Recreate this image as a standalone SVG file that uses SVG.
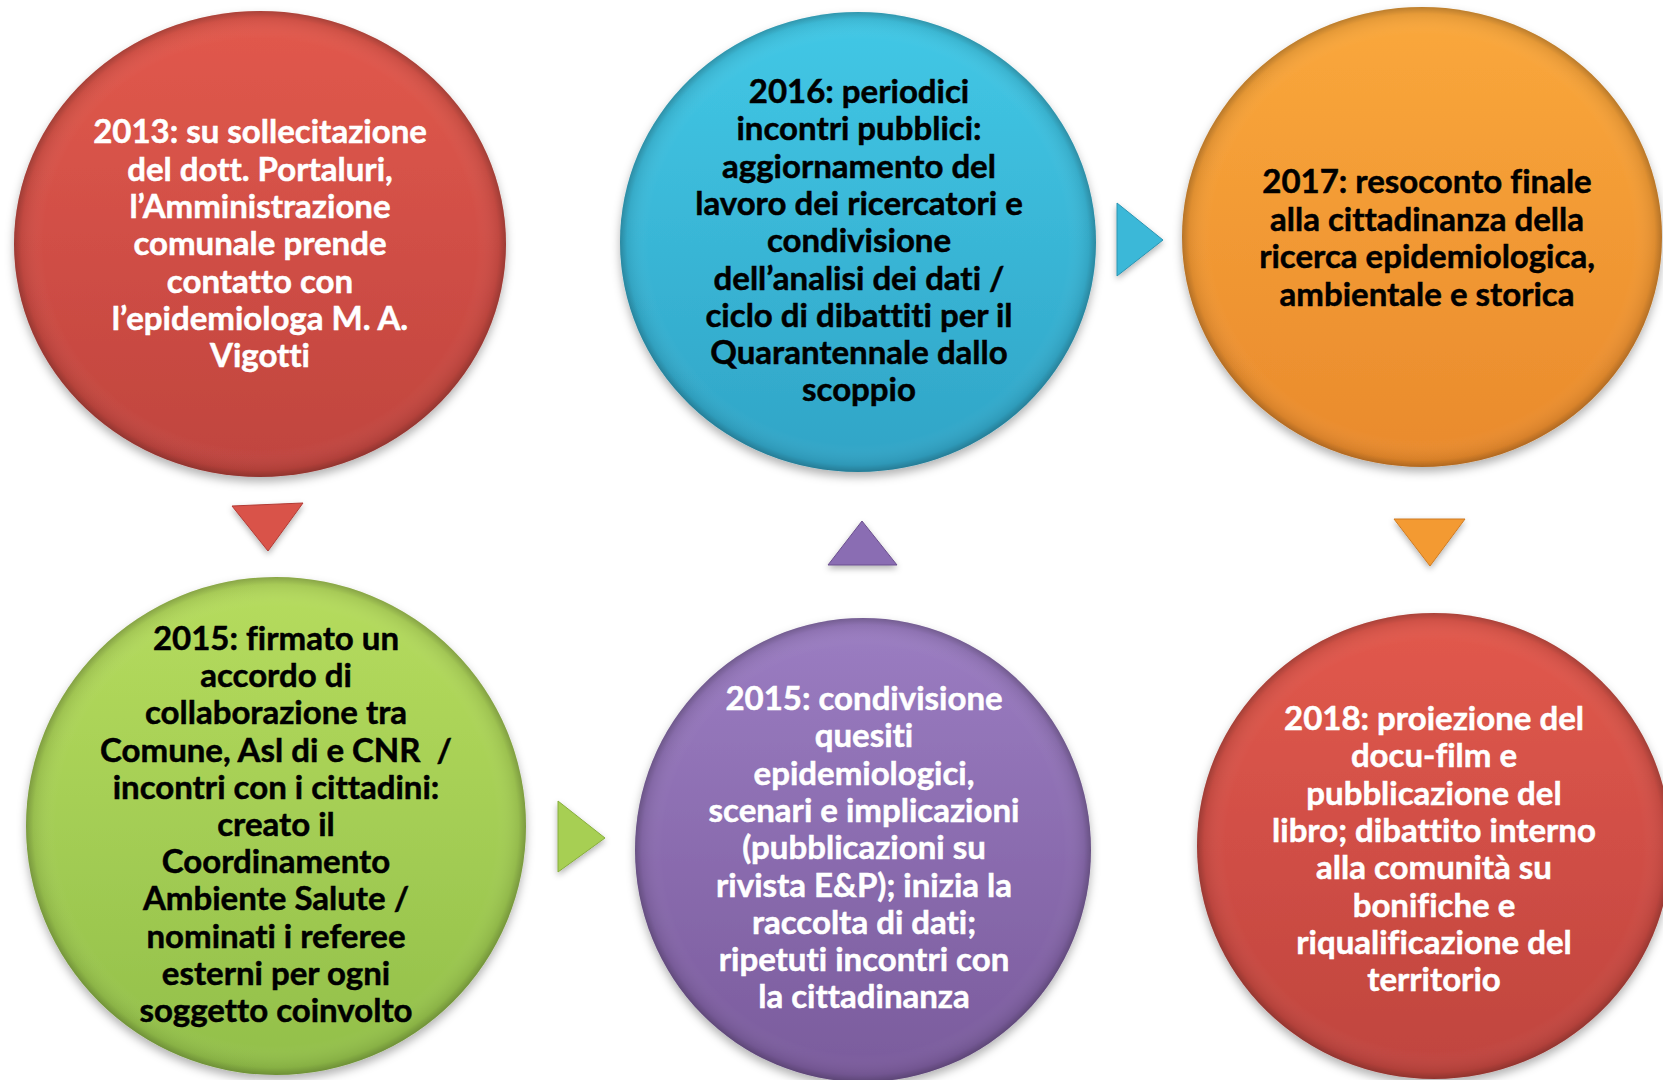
<svg xmlns="http://www.w3.org/2000/svg" width="1663" height="1080" viewBox="0 0 1663 1080">
<defs>
  <linearGradient id="gRed" x1="0" y1="0" x2="0" y2="1">
    <stop offset="0" stop-color="#e2594d"/>
    <stop offset="1" stop-color="#bf443e"/>
  </linearGradient>
  <linearGradient id="gBlue" x1="0" y1="0" x2="0" y2="1">
    <stop offset="0" stop-color="#42c8e6"/>
    <stop offset="1" stop-color="#30a4c6"/>
  </linearGradient>
  <linearGradient id="gOrange" x1="0" y1="0" x2="0" y2="1">
    <stop offset="0" stop-color="#faa83c"/>
    <stop offset="1" stop-color="#e98a2c"/>
  </linearGradient>
  <linearGradient id="gGreen" x1="0" y1="0" x2="0" y2="1">
    <stop offset="0" stop-color="#b6dc5e"/>
    <stop offset="1" stop-color="#92bf4a"/>
  </linearGradient>
  <linearGradient id="gPurple" x1="0" y1="0" x2="0" y2="1">
    <stop offset="0" stop-color="#9b7dc2"/>
    <stop offset="1" stop-color="#7a5b9c"/>
  </linearGradient>
  <radialGradient id="gloss" cx="0.5" cy="0.5" r="0.5">
    <stop offset="0.88" stop-color="#ffffff" stop-opacity="0"/>
    <stop offset="0.97" stop-color="#000000" stop-opacity="0.08"/>
    <stop offset="1" stop-color="#000000" stop-opacity="0.25"/>
  </radialGradient>
  <filter id="sh" x="-10%" y="-10%" width="120%" height="125%">
    <feDropShadow dx="0" dy="5" stdDeviation="5" flood-color="#000" flood-opacity="0.3"/>
  </filter>
  <filter id="shs" x="-30%" y="-30%" width="160%" height="170%">
    <feDropShadow dx="0" dy="3" stdDeviation="3" flood-color="#000" flood-opacity="0.3"/>
  </filter>
</defs>
<style>
  text { font-family: Lato, "Open Sans", "Liberation Sans", sans-serif; font-weight: bold; font-size: 33px; text-anchor: middle; font-variant-ligatures: none; font-feature-settings: "liga" 0; stroke-width: 0.5px; }
  .w { fill: #ffffff; stroke: #ffffff; }
  .k { fill: #000000; stroke: #000000; }
  .edge { fill: url(#gloss); }
</style>
<rect width="1663" height="1080" fill="#ffffff"/>

<g id="connectors">
  <polygon points="232,506 303,503 268,551" fill="#d9534a" stroke="#b23c35" stroke-width="1" filter="url(#shs)"/>
  <polygon points="558,801 558,872 605,838" fill="#a7cf52" stroke="#86ad3c" stroke-width="1" filter="url(#shs)"/>
  <polygon points="828,565 897,565 862,521" fill="#8a6db3" stroke="#6b4f8e" stroke-width="1" filter="url(#shs)"/>
  <polygon points="1117,203 1117,276 1163,240" fill="#3bb8d8" stroke="#2a94b2" stroke-width="1" filter="url(#shs)"/>
  <polygon points="1394,519 1465,519 1430,566" fill="#f39a33" stroke="#cf7b20" stroke-width="1" filter="url(#shs)"/>
</g>

<g id="node-2013">
  <ellipse cx="260" cy="244" rx="246" ry="233" fill="url(#gRed)" filter="url(#sh)"/>
  <ellipse cx="260" cy="244" rx="246" ry="233" class="edge"/>
  <text class="w" x="260" y="143">2013: su sollecitazione</text>
  <text class="w" x="260" y="180.5">del dott. Portaluri,</text>
  <text class="w" x="260" y="218">l’Amministrazione</text>
  <text class="w" x="260" y="255">comunale prende</text>
  <text class="w" x="260" y="292.5">contatto con</text>
  <text class="w" x="260" y="330">l’epidemiologa M. A.</text>
  <text class="w" x="260" y="367">Vigotti</text>
</g>

<g id="node-2016">
  <ellipse cx="858" cy="242" rx="238" ry="230" fill="url(#gBlue)" filter="url(#sh)"/>
  <ellipse cx="858" cy="242" rx="238" ry="230" class="edge"/>
  <text class="k" x="859" y="103">2016: periodici</text>
  <text class="k" x="859" y="140.3">incontri pubblici:</text>
  <text class="k" x="859" y="177.6">aggiornamento del</text>
  <text class="k" x="859" y="214.9">lavoro dei ricercatori e</text>
  <text class="k" x="859" y="252.2">condivisione</text>
  <text class="k" x="859" y="289.5">dell’analisi dei dati /</text>
  <text class="k" x="859" y="326.8">ciclo di dibattiti per il</text>
  <text class="k" x="859" y="364.1">Quarantennale dallo</text>
  <text class="k" x="859" y="401.4">scoppio</text>
</g>

<g id="node-2017">
  <ellipse cx="1422" cy="237" rx="240" ry="230" fill="url(#gOrange)" filter="url(#sh)"/>
  <ellipse cx="1422" cy="237" rx="240" ry="230" class="edge"/>
  <text class="k" x="1427" y="193">2017: resoconto finale</text>
  <text class="k" x="1427" y="230.5">alla cittadinanza della</text>
  <text class="k" x="1427" y="268">ricerca epidemiologica,</text>
  <text class="k" x="1427" y="305.5">ambientale e storica</text>
</g>

<g id="node-2015a">
  <ellipse cx="276" cy="826" rx="250" ry="249" fill="url(#gGreen)" filter="url(#sh)"/>
  <ellipse cx="276" cy="826" rx="250" ry="249" class="edge"/>
  <text class="k" x="276" y="650">2015: firmato un</text>
  <text class="k" x="276" y="687.2">accordo di</text>
  <text class="k" x="276" y="724.4">collaborazione tra</text>
  <text class="k" x="276" y="761.6" xml:space="preserve">Comune, Asl di e CNR  /</text>
  <text class="k" x="276" y="798.8">incontri con i cittadini:</text>
  <text class="k" x="276" y="836">creato il</text>
  <text class="k" x="276" y="873.2">Coordinamento</text>
  <text class="k" x="276" y="910.4">Ambiente Salute /</text>
  <text class="k" x="276" y="947.6">nominati i referee</text>
  <text class="k" x="276" y="984.8">esterni per ogni</text>
  <text class="k" x="276" y="1022">soggetto coinvolto</text>
</g>

<g id="node-2015b">
  <ellipse cx="863" cy="850" rx="228" ry="232" fill="url(#gPurple)" filter="url(#sh)"/>
  <ellipse cx="863" cy="850" rx="228" ry="232" class="edge"/>
  <text class="w" x="864" y="710">2015: condivisione</text>
  <text class="w" x="864" y="747.3">quesiti</text>
  <text class="w" x="864" y="784.6">epidemiologici,</text>
  <text class="w" x="864" y="821.9">scenari e implicazioni</text>
  <text class="w" x="864" y="859.2">(pubblicazioni su</text>
  <text class="w" x="864" y="896.5">rivista E&amp;P); inizia la</text>
  <text class="w" x="864" y="933.8">raccolta di dati;</text>
  <text class="w" x="864" y="971.1">ripetuti incontri con</text>
  <text class="w" x="864" y="1008.4">la cittadinanza</text>
</g>

<g id="node-2018">
  <ellipse cx="1434" cy="846" rx="237" ry="233" fill="url(#gRed)" filter="url(#sh)"/>
  <ellipse cx="1434" cy="846" rx="237" ry="233" class="edge"/>
  <text class="w" x="1434" y="730">2018: proiezione del</text>
  <text class="w" x="1434" y="767.3">docu-film e</text>
  <text class="w" x="1434" y="804.6">pubblicazione del</text>
  <text class="w" x="1434" y="841.9">libro; dibattito interno</text>
  <text class="w" x="1434" y="879.2">alla comunità su</text>
  <text class="w" x="1434" y="916.5">bonifiche e</text>
  <text class="w" x="1434" y="953.8">riqualificazione del</text>
  <text class="w" x="1434" y="991.1">territorio</text>
</g>
</svg>
